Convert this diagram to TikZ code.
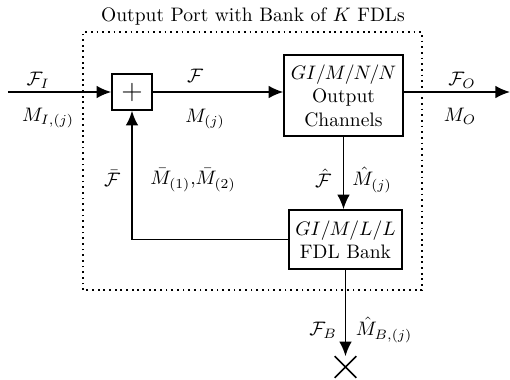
\documentclass[tikz,border=0pt]{standalone}
\usepackage{amsmath}
\usepackage{amssymb}
\usetikzlibrary{arrows.meta}
\usetikzlibrary{shapes.misc,positioning}

\begin{document}
\begin{tikzpicture}[x=0.018cm, y=0.018cm,
        blk/.style={draw, line width=0.8pt, align=center, inner sep=1pt},
        sig/.style={line width=0.9pt, arrows = {-Latex[width=6.5pt, length=7.5pt]}},
        wire/.style={line width=0.9pt}]
        \useasboundingbox (0,0) rectangle (510,379);

        % port boundary
        \draw[dotted, line width=0.9pt] (83,89) rectangle (422,347);
        \node (title) at (253,362) {Output Port with Bank of $K$ FDLs};

        % blocks
        \node[blk, minimum width=0.72cm, minimum height=0.65cm] (sum) at (132,287) {\Large$+$};
        \node[blk, minimum width=2.14cm, minimum height=1.46cm] (oc) at (343.5,283.5) {$GI/M/N/N$\\Output\\Channels};
        \node[blk, minimum width=2.03cm, minimum height=1.06cm] (fdl) at (345.5,139.5) {$GI/M/L/L$\\FDL Bank};
        \node[draw, cross out, line width=0.8pt, minimum size=0.36cm, inner sep=0pt] (sink) at (345.5,12) {};

        \coordinate (in) at (8,287);
        \coordinate (out) at (510,287);

        % flows
        \draw[sig] (in) -- (sum.west);
        \draw[sig] (sum.east) -- (sum -| oc.west);
        \draw[sig] (sum -| oc.east) -- (out);
        \draw[sig] (oc.south) -- (oc.south |- fdl.north);
        \draw[sig] (fdl.west) -| (sum.south);
        \draw[sig] (fdl.south) -- (sink.north);

        % labels
        \node (fi) at (38,299) {$\mathcal{F}_I$};
        \node (mi) at (48,261) {$M_{I,(j)}$};
        \node (f) at (195,303) {$\mathcal{F}$};
        \node (mj) at (205,260) {$M_{(j)}$};
        \node (fo) at (462,299) {$\mathcal{F}_O$};
        \node (mo) at (460,263) {$M_O$};
        \node (fbar) at (112,201) {$\bar{\mathcal{F}}$};
        \node (mbar) at (193,199) {$\bar{M}_{(1)}$,$\bar{M}_{(2)}$};
        \node (fhat) at (323,201) {$\hat{\mathcal{F}}$};
        \node (mhat) at (372,199) {$\hat{M}_{(j)}$};
        \node (fb) at (323,49) {$\mathcal{F}_B$};
        \node (mhatb) at (384,49) {$\hat{M}_{B,(j)}$};
\end{tikzpicture}
\end{document}
